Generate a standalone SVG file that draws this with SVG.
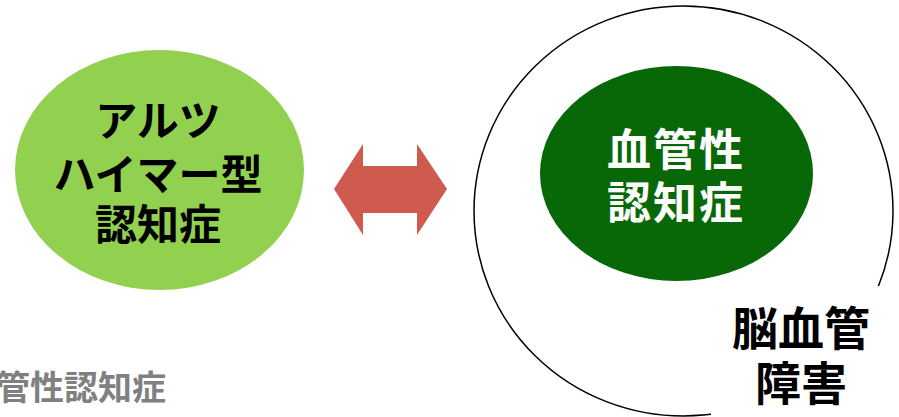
<svg xmlns="http://www.w3.org/2000/svg" width="899" height="417" viewBox="0 0 899 417">
<style>
.t{font-family:"Noto Sans CJK JP","Noto Sans CJK SC",sans-serif;font-weight:bold;text-anchor:middle}
</style>
<rect width="899" height="417" fill="#fff"/>
<g id="brain-vascular">
<ellipse cx="683.5" cy="211" rx="209.5" ry="205" fill="none" stroke="#000" stroke-width="1.5"/>
<rect x="711" y="286" width="190" height="135" fill="#fff"/>
<text class="t" x="801" y="345" font-size="46" fill="#000">脳血管</text>
<text class="t" x="801" y="400" font-size="46" fill="#000">障害</text>
</g>
<g id="alzheimer">
<ellipse cx="159.5" cy="170" rx="144.5" ry="120" fill="#92D050"/>
<text class="t" x="158" y="136" font-size="42" fill="#000">アルツ</text>
<text class="t" x="158" y="190" font-size="42" fill="#000">ハイマー型</text>
<text class="t" x="158" y="240" font-size="42" fill="#000">認知症</text>
</g>
<g id="vascular">
<ellipse cx="676.5" cy="173.5" rx="136.5" ry="107.5" fill="#086808"/>
<text class="t" x="676" y="166" font-size="44" letter-spacing="2" fill="#fff">血管性</text>
<text class="t" x="676" y="219" font-size="44" letter-spacing="2" fill="#fff">認知症</text>
</g>
<g id="connectors">
<polygon points="334,189 363,144 363,166 417,166 417,144 447,189 417,235 417,213 363,213 363,235" fill="#CF5B4E"/>
</g>
<g id="caption">
<text x="166" y="400" font-size="34" font-family="Noto Sans CJK JP, sans-serif" font-weight="bold" text-anchor="end" fill="#808080">管性認知症</text>
</g>
</svg>
